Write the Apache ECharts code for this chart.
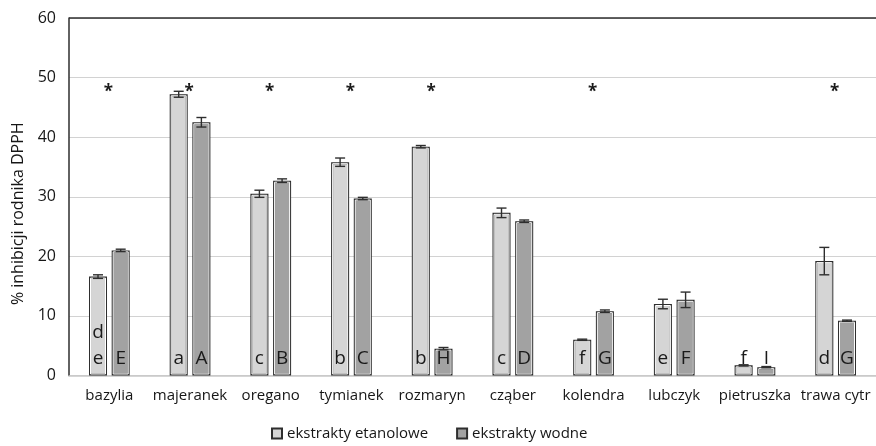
<!DOCTYPE html>
<html>
<head>
<meta charset="utf-8">
<script src="https://cdn.jsdelivr.net/npm/echarts@6/dist/echarts.min.js"></script>
<style>
  html, body { margin: 0; padding: 0; background: #fff; }
  #chart { width: 876px; height: 446px; }
</style>
</head>
<body>
<div id="chart"></div>
<script>
// Herb extracts: DPPH radical inhibition (%)
const categories = ['bazylia', 'majeranek', 'oregano', 'tymianek', 'rozmaryn', 'cząber', 'kolendra', 'lubczyk', 'pietruszka', 'trawa cytr'];

const ethanolValues = [16.6, 47.2, 30.5, 35.8, 38.4, 27.3, 6.0, 12.0, 1.7, 19.2];
const ethanolErrors = [0.3, 0.5, 0.6, 0.7, 0.2, 0.8, 0.1, 0.8, 0.1, 2.3];
const waterValues = [21.0, 42.5, 32.7, 29.7, 4.5, 25.9, 10.8, 12.7, 1.4, 9.2];
const waterErrors = [0.2, 0.8, 0.3, 0.2, 0.2, 0.2, 0.2, 1.3, 0.1, 0.1];

// Homogeneous-group letters
const ethanolLetters = ['d\ne', 'a', 'c', 'b', 'b', 'c', 'f', 'e', 'f', 'd'];
const waterLetters = ['E', 'A', 'B', 'C', 'H', 'D', 'G', 'F', 'I', 'G'];

// Significant difference between extract types
const significance = ['*', '*', '*', '*', '*', '', '*', '', '', '*'];
const significanceLevel = 47.6;

const yTicks = { min: 0, max: 60, interval: 10 };

const FONT = '"Open Sans", "Noto Sans", sans-serif';
const TEXT = '#161616';
const OUTLINE = '#2e2e2e';
const BAR_W = 18;
const BAR_GAP = 0.26;
const half = (BAR_W + BAR_W * BAR_GAP) / 2;

const errorData = [];
ethanolValues.forEach((v, i) => errorData.push([i, v, ethanolErrors[i], -1]));
waterValues.forEach((v, i) => errorData.push([i, v, waterErrors[i], 1]));

function renderErrorBar(params, api) {
  const idx = api.value(0);
  const v = api.value(1);
  const e = api.value(2);
  const side = api.value(3);
  const top = api.coord([idx, v + e]);
  const bot = api.coord([idx, v - e]);
  const base = api.coord([idx, 0]);
  const x = top[0] + side * half;
  const cap = 5;
  const st = { stroke: OUTLINE, lineWidth: 1.4 };
  const barTop = api.coord([idx, v])[1];
  return {
    type: 'group',
    children: [
      // inner white rim of the bar outline
      {
        type: 'rect',
        shape: { x: x - BAR_W / 2 + 1.5, y: barTop + 1.5, width: BAR_W - 3, height: Math.max(0, base[1] - barTop - 3) },
        style: { fill: 'none', stroke: '#ffffff', lineWidth: 1 }
      },
      { type: 'line', shape: { x1: x, y1: top[1], x2: x, y2: bot[1] }, style: st },
      { type: 'line', shape: { x1: x - cap, y1: top[1], x2: x + cap, y2: top[1] }, style: st },
      { type: 'line', shape: { x1: x - cap, y1: bot[1], x2: x + cap, y2: bot[1] }, style: st }
    ]
  };
}

function renderStar(params, api) {
  const idx = api.value(0);
  const txt = significance[idx];
  if (!txt) return null;
  const p = api.coord([idx, api.value(1)]);
  return {
    type: 'text',
    x: p[0] - 1,
    y: p[1],
    style: {
      text: txt,
      fill: '#1a1a1a',
      font: 'bold 17px ' + FONT,
      align: 'center',
      verticalAlign: 'middle'
    }
  };
}

const letterLabel = {
  show: true,
  position: 'insideBottom',
  distance: 4,
  fontSize: 19,
  lineHeight: 26,
  color: '#1a1a1a',
  fontFamily: FONT
};

const chart = echarts.init(document.getElementById('chart'));
chart.setOption({
  backgroundColor: '#ffffff',
  animation: false,
  textStyle: { fontFamily: FONT, color: TEXT },
  grid: { left: 69, right: 0, top: 18, bottom: 70.5 },
  legend: {
    left: 266,
    bottom: 0,
    itemWidth: 10,
    itemHeight: 10,
    itemGap: 28,
    icon: 'rect',
    textStyle: { fontFamily: FONT, fontSize: 15, color: TEXT },
    data: ['ekstrakty etanolowe', 'ekstrakty wodne']
  },
  xAxis: {
    type: 'category',
    data: categories,
    axisLine: { lineStyle: { color: '#c8c8c8', width: 1.5 } },
    axisTick: { show: false },
    axisLabel: { interval: 0, margin: 13, fontSize: 15, color: TEXT, fontFamily: FONT }
  },
  yAxis: {
    type: 'value',
    min: yTicks.min,
    max: yTicks.max,
    interval: yTicks.interval,
    name: '% inhibicji rodnika DPPH',
    nameLocation: 'middle',
    nameGap: 42,
    nameTextStyle: { fontSize: 16, color: TEXT, fontFamily: FONT, padding: [0, 34, 0, 0] },
    axisLine: { show: true, lineStyle: { color: OUTLINE, width: 1.5 } },
    axisTick: { show: false },
    axisLabel: { margin: 13, fontSize: 16, color: TEXT, fontFamily: FONT },
    splitLine: { lineStyle: { color: '#d2d2d2', width: 1.2 } }
  },
  series: [
    {
      name: 'ekstrakty etanolowe',
      type: 'bar',
      data: ethanolValues,
      barWidth: BAR_W,
      barGap: (BAR_GAP * 100) + '%',
      itemStyle: { color: '#d5d5d5', borderColor: OUTLINE, borderWidth: 2 },
      label: Object.assign({}, letterLabel, { formatter: p => ethanolLetters[p.dataIndex] }),
      z: 2
    },
    {
      name: 'ekstrakty wodne',
      type: 'bar',
      data: waterValues,
      barWidth: BAR_W,
      itemStyle: { color: '#a2a2a2', borderColor: OUTLINE, borderWidth: 2 },
      label: Object.assign({}, letterLabel, { formatter: p => waterLetters[p.dataIndex] }),
      z: 2
    },
    {
      name: 'errors',
      type: 'custom',
      renderItem: renderErrorBar,
      data: errorData,
      encode: { x: 0, y: 1 },
      z: 3,
      silent: true,
      markLine: {
        silent: true,
        symbol: 'none',
        label: { show: false },
        lineStyle: { color: OUTLINE, type: 'solid', width: 1.6 },
        data: [{ yAxis: yTicks.max }]
      }
    },
    {
      name: 'significance',
      type: 'custom',
      renderItem: renderStar,
      data: categories.map((c, i) => [i, significanceLevel]),
      encode: { x: 0, y: 1 },
      z: 4,
      silent: true
    }
  ]
});
</script>
</body>
</html>
